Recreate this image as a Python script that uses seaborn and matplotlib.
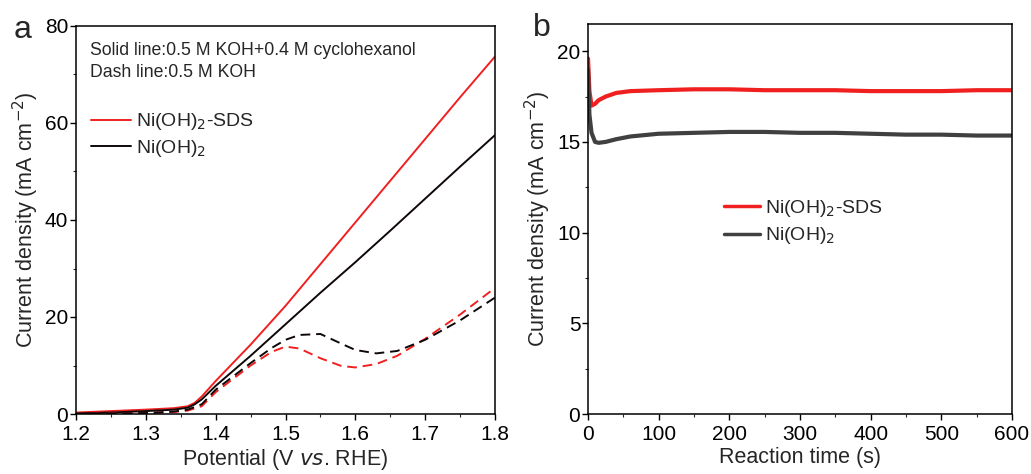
import matplotlib
matplotlib.use("Agg")
import matplotlib.pyplot as plt
import seaborn as sns
import numpy as np
import pandas as pd
from matplotlib.ticker import MultipleLocator

sns.set_theme(style="ticks")
plt.rcParams['font.family'] = ['Liberation Sans', 'DejaVu Sans']

# ---- Panel a data (LSV) ----
pot_solid = [1.20, 1.25, 1.30, 1.34, 1.36, 1.37, 1.38, 1.40, 1.45, 1.50, 1.55, 1.60, 1.65, 1.70, 1.75, 1.80]
sds_solid = [0.3, 0.6, 0.9, 1.2, 1.6, 2.3, 3.6, 6.8, 14.3, 22.3, 30.9, 39.5, 48.1, 56.7, 65.3, 73.7]
ni_solid = [0.1, 0.3, 0.6, 0.9, 1.3, 2.0, 3.0, 5.8, 12.0, 18.5, 25.0, 31.3, 37.8, 44.4, 51.0, 57.5]

pot_dash = [1.20, 1.25, 1.30, 1.34, 1.36, 1.38, 1.40, 1.45, 1.48, 1.50, 1.52, 1.55, 1.58, 1.60, 1.63, 1.66, 1.70, 1.75, 1.80]
sds_dash = [0.0, 0.1, 0.2, 0.4, 0.7, 1.6, 4.5, 10.0, 12.8, 13.9, 13.5, 11.5, 9.9, 9.6, 10.3, 12.0, 15.5, 20.5, 26.0]
ni_dash = [0.0, 0.1, 0.2, 0.5, 0.9, 2.0, 5.0, 10.5, 13.6, 15.3, 16.3, 16.5, 14.5, 13.2, 12.5, 13.0, 15.3, 19.3, 24.0]

# ---- Panel b data (chronoamperometry) ----
time_s = [0, 2, 5, 10, 15, 25, 40, 60, 100, 150, 200, 250, 300, 350, 400, 450, 500, 550, 600]
sds_it = [19.6, 17.8, 17.0, 17.1, 17.3, 17.5, 17.7, 17.8, 17.85, 17.9, 17.9, 17.85, 17.85, 17.85, 17.8, 17.8, 17.8, 17.85, 17.85]
ni_it = [19.0, 16.5, 15.5, 15.0, 14.95, 15.0, 15.15, 15.3, 15.45, 15.5, 15.55, 15.55, 15.5, 15.5, 15.45, 15.4, 15.4, 15.35, 15.35]

RED = '#f02020'
BLK = '#100808'
GRY = '#404040'

fig = plt.figure(figsize=(10.31, 4.74), dpi=100)
ax1 = fig.add_axes([76/1031, 1-414/474, (495-76)/1031, (414-26)/474])
ax2 = fig.add_axes([588/1031, 1-414/474, (1012-588)/1031, (414-24)/474])

df_s = pd.DataFrame({'x': pot_solid, 'sds': sds_solid, 'ni': ni_solid})
df_d = pd.DataFrame({'x': pot_dash, 'sds': sds_dash, 'ni': ni_dash})
sns.lineplot(data=df_s, x='x', y='sds', ax=ax1, color=RED, lw=1.4, label=r'Ni(OH)$_2$-SDS')
sns.lineplot(data=df_s, x='x', y='ni', ax=ax1, color=BLK, lw=1.4, label=r'Ni(OH)$_2$')
sns.lineplot(data=df_d, x='x', y='sds', ax=ax1, color=RED, lw=1.4, linestyle=(0, (5, 3)))
sns.lineplot(data=df_d, x='x', y='ni', ax=ax1, color=BLK, lw=1.4, linestyle=(0, (5, 3)))

ax1.set_xlim(1.2, 1.8)
ax1.set_ylim(0, 80)
ax1.xaxis.set_major_locator(MultipleLocator(0.1))
ax1.xaxis.set_minor_locator(MultipleLocator(0.05))
ax1.yaxis.set_major_locator(MultipleLocator(20))
ax1.yaxis.set_minor_locator(MultipleLocator(10))
ax1.set_xlabel(r'Potential (V $\it{vs}$. RHE)', fontsize=15.5, labelpad=2)
ax1.set_ylabel(r'Current density (mA cm$^{-2}$)', fontsize=15.5, labelpad=3)
ax1.text(0.033, 0.938, 'Solid line:0.5 M KOH+0.4 M cyclohexanol', transform=ax1.transAxes,
         fontsize=12.7, va='center')
ax1.text(0.033, 0.879, 'Dash line:0.5 M KOH', transform=ax1.transAxes, fontsize=12.7, va='center')
leg1 = ax1.legend(loc='upper left', bbox_to_anchor=(0.035, 0.78), frameon=False, fontsize=14,
                  handlelength=2.05, handletextpad=0.3, labelspacing=0.3, borderaxespad=0,
                  borderpad=0)

df_b = pd.DataFrame({'t': time_s, 'sds': sds_it, 'ni': ni_it})
sns.lineplot(data=df_b, x='t', y='sds', ax=ax2, color=RED, lw=3.0, label=r'Ni(OH)$_2$-SDS')
sns.lineplot(data=df_b, x='t', y='ni', ax=ax2, color=GRY, lw=3.0, label=r'Ni(OH)$_2$')
ax2.set_xlim(0, 600)
ax2.set_ylim(0, 21.5)
ax2.xaxis.set_major_locator(MultipleLocator(100))
ax2.xaxis.set_minor_locator(MultipleLocator(50))
ax2.yaxis.set_major_locator(MultipleLocator(5))
ax2.yaxis.set_minor_locator(MultipleLocator(2.5))
ax2.set_xlabel('Reaction time (s)', fontsize=15.5, labelpad=2)
ax2.set_ylabel(r'Current density (mA cm$^{-2}$)', fontsize=15.5, labelpad=3)
leg2 = ax2.legend(loc='upper left', bbox_to_anchor=(0.32, 0.555), frameon=False, fontsize=14,
                  handlelength=1.85, handletextpad=0.3, labelspacing=0.35, borderaxespad=0,
                  borderpad=0)
for l in leg2.get_lines():
    l.set_linewidth(2.5)

for ax in (ax1, ax2):
    for sp in ax.spines.values():
        sp.set_linewidth(1.1)
        sp.set_color('black')
    ax.tick_params(which='major', direction='out', length=4, width=1, labelsize=15, pad=1.5, colors='black')
    ax.tick_params(which='minor', direction='out', length=2.5, width=0.8)
    ax.tick_params(axis='x', which='major', pad=4)

fig.text(14/1031, 1-30/474, 'a', fontsize=23, va='center', ha='left')
fig.text(533/1031, 1-28/474, 'b', fontsize=23, va='center', ha='left')

fig.savefig('out.png', dpi=100, facecolor='white')
